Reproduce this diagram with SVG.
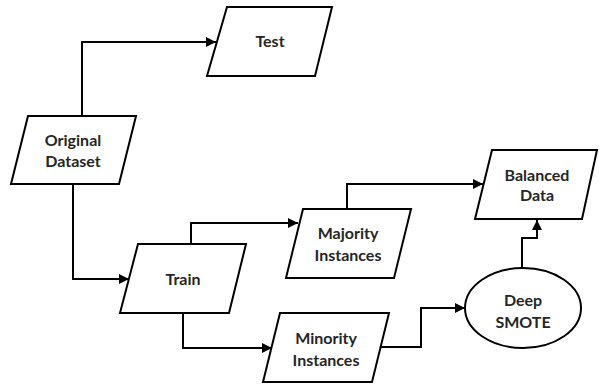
<svg xmlns="http://www.w3.org/2000/svg" width="599" height="384" viewBox="0 0 599 384">
<defs>
<style>
.n{fill:#fff;stroke:#000;stroke-width:2;stroke-linejoin:miter}
.t{font-family:Lato,"Open Sans","Liberation Sans",sans-serif;font-weight:bold;font-size:16px;fill:#262626;text-anchor:middle}
.c{fill:none;stroke:#000;stroke-width:2}
</style>
<marker id="a" viewBox="0 0 10 10" refX="10" refY="5" markerWidth="5" markerHeight="5" markerUnits="strokeWidth" orient="auto">
<path d="M0,0 L10,5 L0,10 z" fill="#000"/>
</marker>
</defs>
<rect width="599" height="384" fill="#fff"/>
<g id="connectors">
<path class="c" d="M82,116 V42 H216" marker-end="url(#a)"/>
<path class="c" d="M73,184 V279 H129" marker-end="url(#a)"/>
<path class="c" d="M191,244 V223 H298" marker-end="url(#a)"/>
<path class="c" d="M183,313 V348 H272" marker-end="url(#a)"/>
<path class="c" d="M347,209 V184 H483" marker-end="url(#a)"/>
<path class="c" d="M381,347 H421 V308 H465" marker-end="url(#a)"/>
<path class="c" d="M522,268 V238 H537 V220" marker-end="url(#a)"/>
</g>
<g id="test">
<polygon class="n" points="227,7 332,7 315,76 207,76"/>
<text class="t" x="270" y="47">Test</text>
</g>
<g id="original">
<polygon class="n" points="28,116 136,116 119,184 11,184"/>
<text class="t" x="73" y="146">Original</text>
<text class="t" x="73" y="167">Dataset</text>
</g>
<g id="train">
<polygon class="n" points="138,244 246,244 229,313 120,313"/>
<text class="t" x="183" y="285">Train</text>
</g>
<g id="majority">
<polygon class="n" points="303,209 411,209 394,278 286,278"/>
<text class="t" x="348" y="239">Majority</text>
<text class="t" x="348" y="261">Instances</text>
</g>
<g id="minority">
<polygon class="n" points="280,313 389,313 372,382 263,382"/>
<text class="t" x="326" y="344">Minority</text>
<text class="t" x="326" y="366">Instances</text>
</g>
<g id="balanced">
<polygon class="n" points="492,150 597,150 582,219 475,219"/>
<text class="t" x="537" y="181">Balanced</text>
<text class="t" x="537" y="201">Data</text>
</g>
<g id="deepsmote">
<ellipse class="n" cx="523" cy="308" rx="58" ry="40"/>
<text class="t" x="523" y="306">Deep</text>
<text class="t" x="523" y="328">SMOTE</text>
</g>
</svg>
